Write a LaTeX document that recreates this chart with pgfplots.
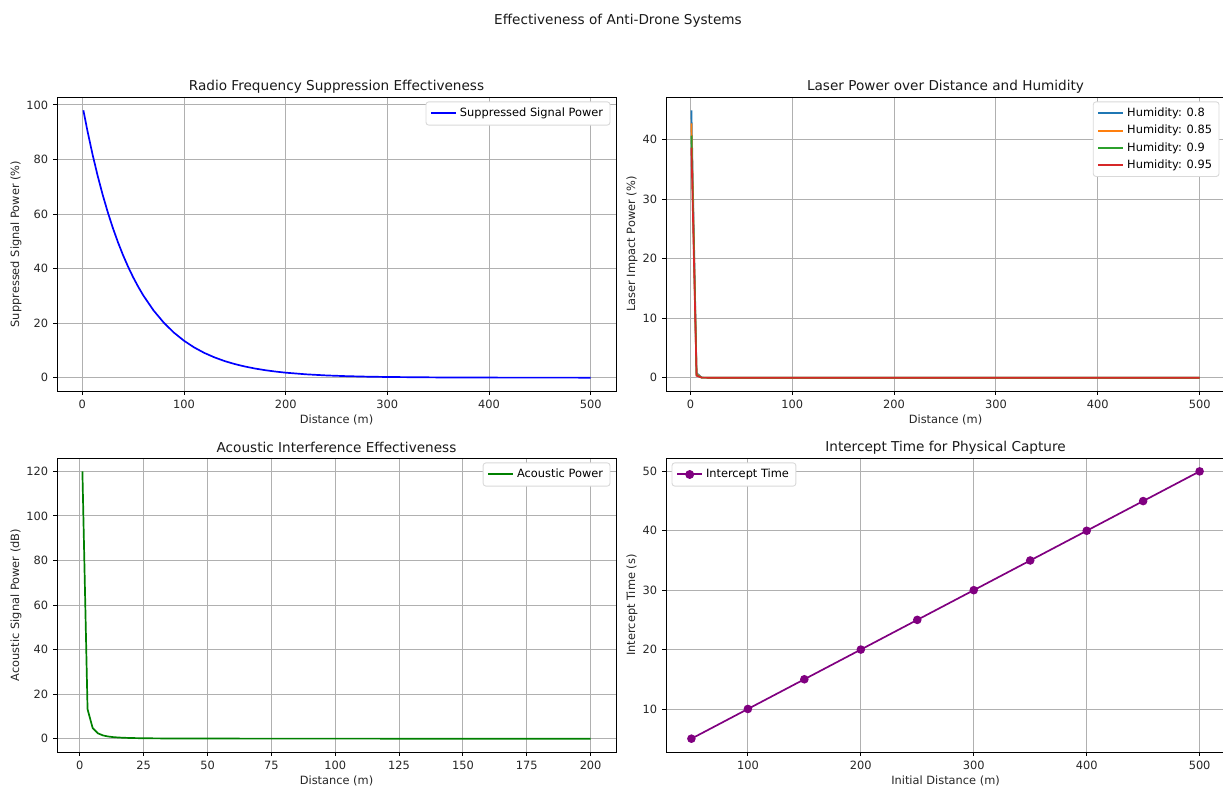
\documentclass[border=0pt]{standalone}
\usepackage{fontspec}
\setmainfont{DejaVu Sans}
\usepackage{pgfplots}
\pgfplotsset{compat=1.18}
\definecolor{tabblue}{HTML}{1F77B4}
\definecolor{taborange}{HTML}{FF7F0E}
\definecolor{tabgreen}{HTML}{2CA02C}
\definecolor{tabred}{HTML}{D62728}
\definecolor{mplgreen}{RGB}{0,128,0}
\definecolor{mplpurple}{RGB}{128,0,128}
\definecolor{gridgray}{HTML}{B0B0B0}
\pgfplotsset{
  mpl/.style={
    scale only axis,
    width=402.5pt, height=211.7pt,
    anchor=north west,
    /pgf/number format/assume math mode=true,
    tick label style={font=\fontsize{8.2}{10}\selectfont, text=black!85},
    label style={font=\fontsize{8.2}{10}\selectfont, text=black!85},
    every axis title shift=0pt,
    title style={font=\fontsize{9.8}{12}\selectfont, text=black!90, at={(axis description cs:0.5,1.036)}, anchor=center},
    xlabel style={at={(axis description cs:0.5,-0.0986)}, anchor=center},
    grid=major,
    major grid style={color=gridgray, line width=0.65pt},
    axis line style={line width=0.65pt, black},
    tick pos=left,
    tick align=outside,
    major tick length=2.85pt,
    every tick/.style={black, line width=0.65pt},
    legend cell align=left,
    legend style={font=\fontsize{8.2}{10}\selectfont, draw=black!15, rounded corners=2pt, line width=0.65pt, inner xsep=3pt, inner ysep=2.5pt, row sep=0.6pt},
    legend image code/.code={\draw[#1, line width=1.45pt, mark repeat=2, mark phase=2] plot coordinates {(0pt,0pt) (9pt,0pt) (18pt,0pt)};},
  }
}
\begin{document}
\begin{tikzpicture}
\path[use as bounding box] (0,0) rectangle (880.56pt,-565.2pt);
\node[font=\fontsize{9.8}{12}\selectfont, text=black!90] at (444.96pt,-14.6pt) {Effectiveness of Anti-Drone Systems};

% Top-left
\begin{axis}[mpl, at={(41.04pt,-69.84pt)},
  title={Radio Frequency Suppression Effectiveness},
  xlabel={Distance (m)}, ylabel={Suppressed Signal Power (\%)},
  ylabel style={at={(axis description cs:-0.0733,0.5)}, anchor=center},
  xmin=-24.95, xmax=524.95, ymin=-4.9, ymax=102.9,
  xtick={0,100,200,300,400,500}, ytick={0,20,40,60,80,100},
  legend style={at={(0.99,0.985)}, anchor=north east}]
\addplot[blue, line width=1.22pt] coordinates {
(1,98.02) (5,90.48) (10,81.87) (15,74.08) (20,67.03) (25,60.65) (30,54.88) (35,49.66) (40,44.93) (45,40.66) (50,36.79) (55,33.29) (60,30.12) (70,24.66) (80,20.19) (90,16.53) (100,13.53) (110,11.08) (120,9.07) (130,7.43) (140,6.08) (150,4.98) (160,4.08) (170,3.34) (180,2.73) (190,2.24) (200,1.83) (220,1.23) (240,0.82) (260,0.55) (280,0.37) (300,0.25) (350,0.09) (400,0.03) (450,0.01) (500,0.005)};
\addlegendentry{Suppressed Signal Power}
\end{axis}

% Top-right
\begin{axis}[mpl, at={(479.52pt,-69.84pt)},
  title={Laser Power over Distance and Humidity},
  xlabel={Distance (m)}, ylabel={Laser Impact Power (\%)},
  ylabel style={at={(axis description cs:-0.061,0.5)}, anchor=center},
  xmin=-23.95, xmax=524.95, ymin=-2.25, ymax=47.17,
  xtick={0,100,200,300,400,500}, ytick={0,10,20,30,40},
  legend style={at={(0.99,0.985)}, anchor=north east}]
\addplot[tabblue, line width=1.22pt] coordinates {(1,44.93) (6.04,0.797) (11.08,0.0141) (16.12,0.00025) (21.16,0) (500,0)};
\addlegendentry{Humidity: 0.8}
\addplot[taborange, line width=1.22pt] coordinates {(1,42.74) (6.04,0.589) (11.08,0.0081) (16.12,0.0001) (21.16,0) (500,0)};
\addlegendentry{Humidity: 0.85}
\addplot[tabgreen, line width=1.22pt] coordinates {(1,40.66) (6.04,0.436) (11.08,0.0047) (16.12,0.00005) (21.16,0) (500,0)};
\addlegendentry{Humidity: 0.9}
\addplot[tabred, line width=1.22pt] coordinates {(1,38.67) (6.04,0.322) (11.08,0.0027) (16.12,0.00002) (21.16,0) (500,0)};
\addlegendentry{Humidity: 0.95}
\end{axis}

% Bottom-left
\begin{axis}[mpl, at={(41.04pt,-329.76pt)},
  title={Acoustic Interference Effectiveness},
  xlabel={Distance (m)}, ylabel={Acoustic Signal Power (dB)},
  ylabel style={at={(axis description cs:-0.0733,0.5)}, anchor=center},
  xmin=-8.95, xmax=209.95, ymin=-6, ymax=126,
  xtick={0,25,50,75,100,125,150,175,200}, ytick={0,20,40,60,80,100,120},
  legend style={at={(0.99,0.985)}, anchor=north east}]
\addplot[mplgreen, line width=1.22pt] coordinates {
(1,120) (3.01,13.24) (5.02,4.76) (7.03,2.43) (9.04,1.47) (11.05,0.98) (13.06,0.70) (15.07,0.53) (17.08,0.41) (19.09,0.33) (21.1,0.27) (25,0.19) (30,0.13) (40,0.075) (50,0.048) (75,0.021) (100,0.012) (150,0.005) (200,0.003)};
\addlegendentry{Acoustic Power}
\end{axis}

% Bottom-right
\begin{axis}[mpl, at={(479.52pt,-329.76pt)},
  title={Intercept Time for Physical Capture},
  xlabel={Initial Distance (m)}, ylabel={Intercept Time (s)},
  ylabel style={at={(axis description cs:-0.061,0.5)}, anchor=center},
  xmin=27.5, xmax=522.5, ymin=2.75, ymax=52.25,
  xtick={100,200,300,400,500}, ytick={10,20,30,40,50},
  legend style={at={(0.01,0.985)}, anchor=north west}]
\addplot[mplpurple, line width=1.22pt, mark=*, mark size=2.45pt, mark options={fill=mplpurple, draw=mplpurple}] coordinates {
(50,5) (100,10) (150,15) (200,20) (250,25) (300,30) (350,35) (400,40) (450,45) (500,50)};
\addlegendentry{Intercept Time}
\end{axis}
\end{tikzpicture}
\end{document}
